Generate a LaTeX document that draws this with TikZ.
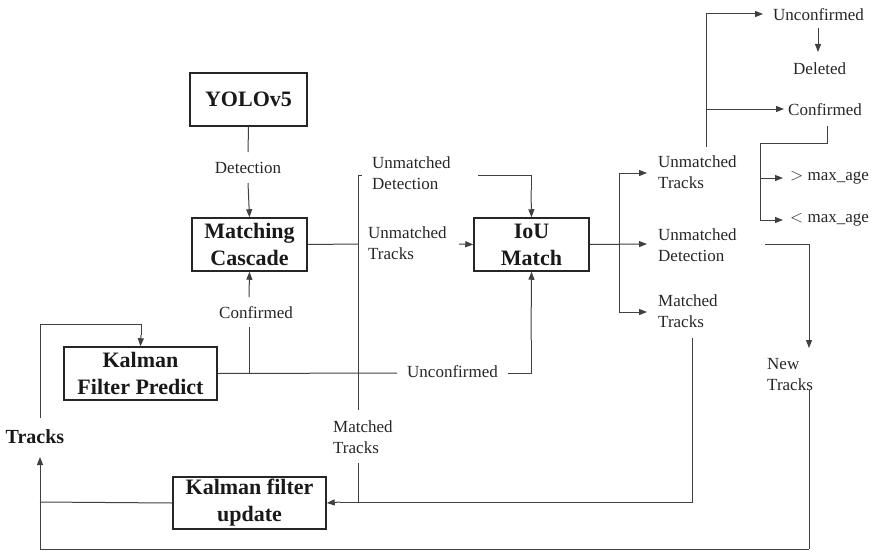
\documentclass[tikz,border=0pt]{standalone}
\usepackage{fontspec}
\setmainfont{Liberation Serif}
\usetikzlibrary{arrows.meta}
\begin{document}
\begin{tikzpicture}[x=1pt,y=-1pt,
  box/.style={draw=black!85, line width=1.5pt, align=center, inner sep=0pt,
    font=\fontsize{22}{27}\selectfont\bfseries, text=black!90},
  lbl/.style={align=left, inner sep=0pt, font=\fontsize{17}{21}\selectfont, text=black!85},
  ln/.style={draw=black!75, line width=1pt},
  arr/.style={ln, -{Triangle[length=8pt,width=6pt]}}]
\useasboundingbox (0,0) rectangle (877,551);
% boxes
\node[box, minimum width=117pt, minimum height=53pt] (yolo) at (248.5,99.5) {YOLOv5};
\node[box, minimum width=115pt, minimum height=53pt] (mc) at (249.5,244.5) {Matching\\Cascade};
\node[box, minimum width=115pt, minimum height=53pt] (iou) at (531.5,244.5) {IoU\\Match};
\node[box, minimum width=153pt, minimum height=53pt] (kfp) at (140.5,373.5) {Kalman\\Filter Predict};
\node[box, minimum width=153pt, minimum height=52pt] (kfu) at (249.5,503) {Kalman filter\\update};
% labels
\node[lbl, anchor=center] (det) at (248,168) {Detection};
\node[lbl, anchor=center] (conf) at (256,313) {Confirmed};
\node[lbl, anchor=west] (ud1) at (372,173) {Unmatched\\Detection};
\node[lbl, anchor=west] (ut1) at (368,243) {Unmatched\\Tracks};
\node[lbl, anchor=center] (unc1) at (452.5,372) {Unconfirmed};
\node[lbl, anchor=west] (mt1) at (333,437) {Matched\\Tracks};
\node[inner sep=0pt, font=\fontsize{20}{24}\selectfont\bfseries, text=black!90] (tracks) at (35,437) {Tracks};
\node[lbl, anchor=west] (ut2) at (658,172) {Unmatched\\Tracks};
\node[lbl, anchor=west] (ud2) at (658,245) {Unmatched\\Detection};
\node[lbl, anchor=west] (mt2) at (658,311) {Matched\\Tracks};
\node[lbl, anchor=west] (nt) at (767,375) {New\\Tracks};
\node[lbl, anchor=west] (unc2) at (773,15) {Unconfirmed};
\node[lbl, anchor=west] (del) at (793,69) {Deleted};
\node[lbl, anchor=west] (conf2) at (788,110) {Confirmed};
\node[lbl, anchor=west] (gt) at (790,178) {$>$ max\_age};
\node[lbl, anchor=west] (lt) at (790,220) {$<$ max\_age};
% coordinates
\coordinate (busT) at (358,175);
\coordinate (busM) at (358,244);
\coordinate (busB) at (358,410);
\coordinate (busU) at (358,463);
\coordinate (busE) at (358,502);
% connectors left part
\draw[ln] (yolo.south) -- (248,152);
\draw[arr] (248,183) -- (mc.north);
\draw[ln] (mc.east) -- (busM);
\draw[ln] (362,175) -- (busT) -- (busB);
\draw[ln] (busU) -- (busE);
\draw[ln] (478,175) -| (531,190);
\draw[arr] (531,190) -- (iou.north);
\draw[arr] (459,244) -- (iou.west);
\draw[ln] (kfp.east) -- (397,373);
\draw[ln] (508,373) -| (531,340);
\draw[arr] (531,340) -- (iou.south);
\draw[ln] (249,373) -- (249,327);
\draw[arr] (249,297) -- (mc.south);
\draw[ln] (40,418) -- (40,324) -| (141,335);
\draw[arr] (141,335) -- (kfp.north);
\draw[ln] (kfu.west) -- (40,502);
\draw[ln] (809,549) -- (40,549);
\draw[arr] (40,549) -- (40,457);
% right part
\draw[arr] (iou.east) -- (647,244);
\draw[arr] (619,173) -- (647,173);
\draw[ln] (619,173) -- (619,312);
\draw[arr] (619,312) -- (647,312);
\draw[ln] (706,147) -- (706,14);
\draw[arr] (706,14) -- (763,14);
\draw[arr] (706,109) -- (784,109);
\draw[arr] (818,28) -- (818,52);
\draw[ln] (827,126) -- (827,143) -- (760,143) -- (760,220);
\draw[arr] (760,220) -- (783,220);
\draw[arr] (760,178) -- (783,178);
\draw[ln] (765,244) -- (809,244) -- (809,330);
\draw[arr] (809,330) -- (809,348);
\draw[ln] (809,390) -- (809,549);
\draw[ln] (692,338) -- (692,502) -- (340,502);
\draw[arr] (340,502) -- (kfu.east);
\end{tikzpicture}
\end{document}
